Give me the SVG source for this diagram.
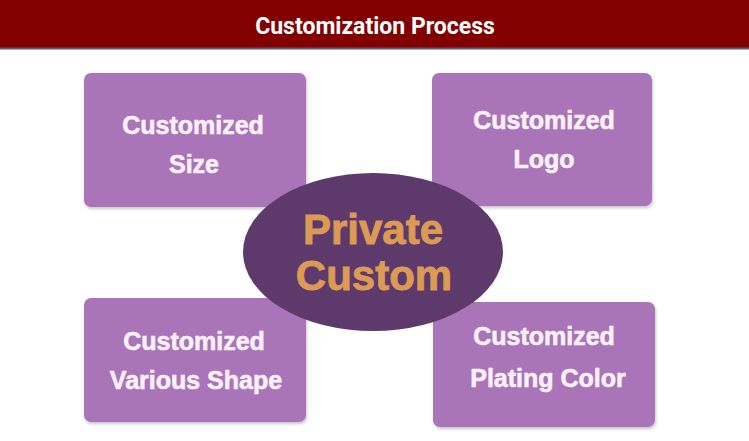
<svg xmlns="http://www.w3.org/2000/svg" width="749" height="441" viewBox="0 0 749 441">
<defs>
<filter id="sh" x="-10%" y="-10%" width="125%" height="130%">
<feDropShadow dx="1" dy="2" stdDeviation="1.5" flood-color="#000" flood-opacity="0.22"/>
</filter>
<style>
.box{fill:#a974b8;filter:url(#sh);}
.bt{font-family:"Liberation Sans",Arial,sans-serif;font-weight:700;font-size:25px;fill:#fcf0fa;stroke:#fcf0fa;stroke-width:0.6;text-anchor:middle;}
.ct{font-family:"Liberation Sans",Arial,sans-serif;font-weight:700;font-size:42px;fill:#db9b55;stroke:#db9b55;stroke-width:0.9;text-anchor:middle;}
.title{font-family:Roboto,"Liberation Sans",sans-serif;font-weight:700;font-size:23px;fill:#ffffff;text-anchor:middle;}
</style>
</defs>
<rect width="749" height="441" fill="#ffffff"/>
<g id="header">
<rect x="0" y="0" width="749" height="48" fill="#820000"/>
<rect x="0" y="47.5" width="749" height="2" fill="#5a6070"/>
<text class="title" x="375" y="34">Customization Process</text>
</g>
<g id="connectors"></g>
<g id="node-size">
<rect class="box" x="84" y="73" width="222" height="134" rx="7"/>
<text class="bt" x="193" y="134">Customized</text>
<text class="bt" x="194" y="173">Size</text>
</g>
<g id="node-logo">
<rect class="box" x="432" y="73" width="220" height="133" rx="7"/>
<text class="bt" x="544" y="129">Customized</text>
<text class="bt" x="544" y="168">Logo</text>
</g>
<g id="node-shape">
<rect class="box" x="84" y="298" width="222" height="124" rx="7"/>
<text class="bt" x="194" y="350">Customized</text>
<text class="bt" x="196" y="389">Various Shape</text>
</g>
<g id="node-color">
<rect class="box" x="433" y="302" width="222" height="125" rx="7"/>
<text class="bt" x="544" y="345">Customized</text>
<text class="bt" x="548" y="387">Plating Color</text>
</g>
<g id="node-center">
<ellipse cx="373" cy="252" rx="130" ry="79" fill="#5d3a6b"/>
<text class="ct" x="373" y="244">Private</text>
<text class="ct" x="374" y="290">Custom</text>
</g>
</svg>
